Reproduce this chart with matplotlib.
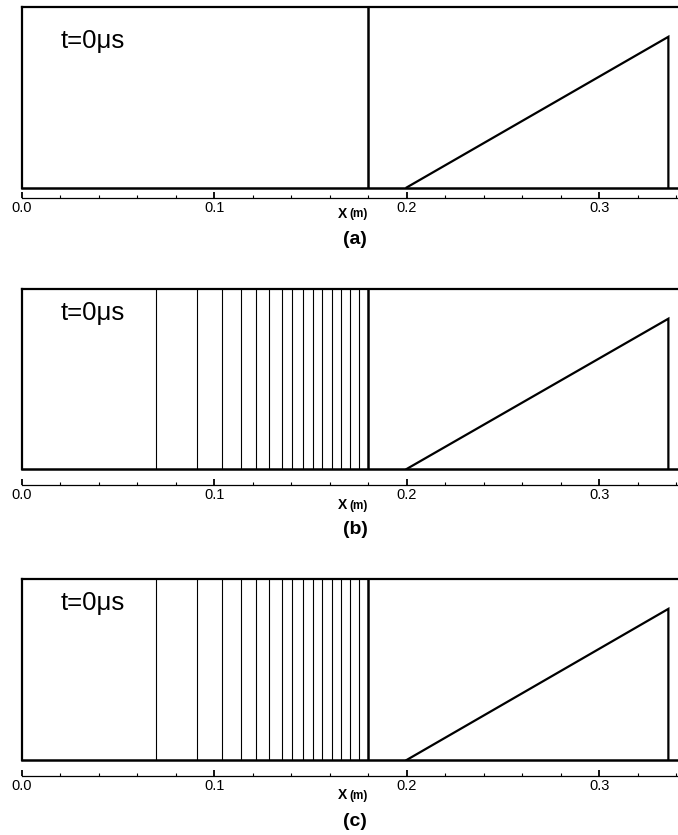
import matplotlib
matplotlib.use("Agg")
import matplotlib.pyplot as plt
import numpy as np

plt.rcParams['font.family'] = ['Liberation Sans', 'DejaVu Sans']

# Geometry of the tube (m)
diaphragm_x = 0.18          # thick interface line
ramp_start = 0.20           # start of the triangular profile
ramp_end = 0.336            # vertical wall of the triangle
ramp_height = 0.835         # relative height of the triangle tip

# Positions of the thin marker lines in panels (b) and (c)
marker_x = [0.0696, 0.0911, 0.1043, 0.1140, 0.1218, 0.1287, 0.1351, 0.1406,
            0.1460, 0.1512, 0.1562, 0.1611, 0.1658, 0.1705, 0.1750]

major_ticks = [0.0, 0.1, 0.2, 0.3]
major_labels = ["0.0", "0.1", "0.2", "0.3"]
minor_ticks = [0.02, 0.04, 0.06, 0.08, 0.12, 0.14, 0.16, 0.18,
               0.22, 0.24, 0.26, 0.28, 0.32, 0.34]

panel_tags = ["(a)", "(b)", "(c)"]
time_label = "t=0\u03bcs"

W, H = 678, 835
fig = plt.figure(figsize=(W / 100, H / 100), dpi=100)

# pixel layout for each panel: (box top, box bottom, axis gap, time text y, xlabel y, tag y)
layout = [
    (7, 187.5, 10.5, 41, 214, 239),
    (289, 469, 16, 313, 505, 530),
    (579, 760, 16, 603, 795, 822),
]

left_px = 21.7
for i, (top, bot, gap, ty, xly, tagy) in enumerate(layout):
    ax = fig.add_axes([left_px / W, 1 - bot / H, 1 - left_px / W, (bot - top) / H])
    ax.set_xlim(0, 0.341)
    ax.set_ylim(0, 1)
    for s in ['top', 'left']:
        ax.spines[s].set_linewidth(1.6)
    ax.spines['right'].set_visible(False)
    ax.spines['bottom'].set_position(('outward', gap * 0.72))
    ax.spines['bottom'].set_linewidth(0.9)
    ax.axhline(0, color='black', lw=1.8, clip_on=False, zorder=3)

    ax.set_yticks([])
    ax.set_xticks(major_ticks)
    ax.set_xticklabels(major_labels)
    ax.set_xticks(minor_ticks, minor=True)
    ax.tick_params(axis='x', which='major', direction='in', length=4.5, width=1.3,
                   pad=2.5, labelsize=10.5)
    ax.tick_params(axis='x', which='minor', direction='in', length=2.3, width=0.8)

    if i > 0:
        for xm in marker_x:
            ax.axvline(xm, color='black', lw=0.8)
    ax.axvline(diaphragm_x, color='black', lw=1.8)
    ax.plot([ramp_start, ramp_end, ramp_end], [0, ramp_height, 0],
            color='black', lw=1.6, solid_joinstyle='miter')

    fig.text(61 / W, 1 - ty / H, time_label, fontsize=18.5, va='center', ha='left')
    fig.text(347 / W, 1 - xly / H, "X", fontsize=10, fontweight='bold',
             ha='right', va='center')
    fig.text(349.5 / W, 1 - (xly + 0.5) / H, "(m)", fontsize=8.5, fontweight='bold',
             ha='left', va='center')
    fig.text(355 / W, 1 - tagy / H, panel_tags[i], fontsize=14, fontweight='bold',
             ha='center', va='center')

fig.savefig("out.png", dpi=100)
